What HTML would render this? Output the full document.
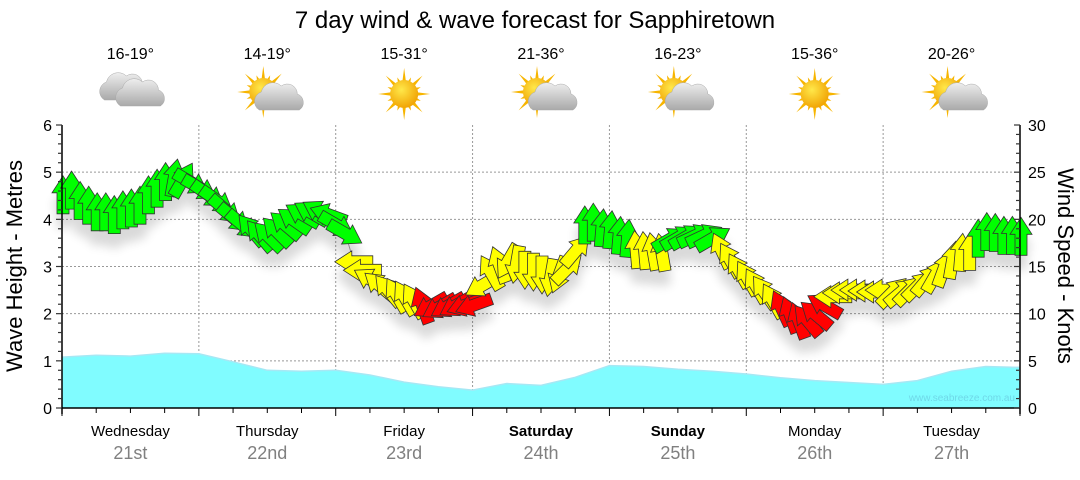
<!DOCTYPE html>
<html><head><meta charset="utf-8"><style>
body{margin:0;background:#fff;width:1080px;height:475px;overflow:hidden}
svg text{font-family:"Liberation Sans",sans-serif}
</style></head><body>
<svg id="chart" width="1080" height="475" viewBox="0 0 1080 475" xmlns="http://www.w3.org/2000/svg">
<defs>
<filter id="sh" x="-50%" y="-50%" width="200%" height="250%"><feGaussianBlur in="SourceAlpha" stdDeviation="5"/><feOffset dy="14" result="b"/><feComponentTransfer><feFuncA type="linear" slope="0.15"/></feComponentTransfer><feMerge><feMergeNode/><feMergeNode in="SourceGraphic"/></feMerge></filter>
<radialGradient id="sun" cx="0.4" cy="0.35" r="0.7"><stop offset="0" stop-color="#ffe84a"/><stop offset="1" stop-color="#f0a000"/></radialGradient>
<linearGradient id="cl" x1="0" y1="0" x2="0" y2="1"><stop offset="0" stop-color="#eeeeee"/><stop offset="1" stop-color="#a9a9a9"/></linearGradient>
</defs>
<text x="535" y="28" font-size="24" text-anchor="middle" fill="#000">7 day wind &amp; wave forecast for Sapphiretown</text>
<g id="grid"></g>
<g id="wave"></g>
<g id="wind" filter="url(#sh)"></g>
<g id="axes"></g>
<g id="topg"></g>
<text x="1015" y="401" font-size="10" text-anchor="end" fill="#6fd8e8">www.seabreeze.com.au</text>
<text transform="translate(22,266) rotate(-90)" font-size="22" text-anchor="middle">Wave Height - Metres</text>
<text transform="translate(1058,266) rotate(90)" font-size="22" text-anchor="middle">Wind Speed - Knots</text>
</svg>
<script>
const days=["Wednesday","Thursday","Friday","Saturday","Sunday","Monday","Tuesday"];
const dates=["21st","22nd","23rd","24th","25th","26th","27th"];
const boldDays=[false,false,false,true,true,false,false];
const temps=["16-19°","14-19°","15-31°","21-36°","16-23°","15-36°","20-26°"];
const icons=["cloud","suncloud","sun","suncloud","suncloud","sun","suncloud"];
const waveHeights=[1.08,1.12,1.10,1.16,1.15,0.98,0.80,0.78,0.80,0.70,0.55,0.45,0.38,0.52,0.48,0.65,0.90,0.88,0.82,0.78,0.72,0.64,0.58,0.54,0.50,0.58,0.78,0.88,0.86];
const windSpeeds=[
22.6,23.1,22.0,21.5,20.8,20.8,20.5,21.0,21.2,21.5,22.6,23.3,24.0,24.4,24.2,23.9,
23.3,22.6,22.0,21.0,20.1,19.4,18.9,18.3,18.2,18.7,19.4,19.9,20.5,20.7,20.8,20.5,
19.4,18.5,15.5,14.6,13.6,13.0,12.5,12.0,11.7,11.4,10.9,10.8,10.7,10.8,10.9,10.9,
10.9,13.0,14.4,15.2,15.5,15.2,14.6,14.4,14.1,13.8,14.1,14.8,16.7,19.4,19.7,19.1,
18.9,18.3,18.0,16.8,16.7,16.6,16.5,17.9,18.1,18.2,18.3,18.3,18.0,16.7,15.7,14.6,
13.8,13.0,12.3,11.4,10.6,9.9,9.3,9.3,9.9,10.9,11.8,12.2,12.5,12.5,12.4,12.3,
12.5,12.3,12.3,12.5,13.0,13.6,14.1,14.8,15.7,16.5,16.6,18.0,18.7,18.6,18.3,18.3,18.2];
const windDirs=[
-90,-90,-90,-90,-90,-90,-90,-90,-90,-90,-90,-90,-90,-80,-60,30,
30,35,35,40,40,40,-130,-130,-135,-135,-140,-145,-150,-150,-150,-160,
30,30,180,180,-150,-140,-130,-120,-120,-120,-110,150,150,150,150,160,
160,150,-120,-110,120,100,90,90,90,100,110,-45,-50,-90,-90,-85,
-85,-85,-85,-95,-95,-100,-100,-30,-30,-30,-25,-25,-30,-115,-120,-120,
-120,-120,-125,-120,-115,-110,-110,-130,-140,-150,180,180,180,180,180,180,
180,-45,-40,-45,-45,-50,-60,-70,-80,-85,-90,-90,-90,-90,-90,-90,-90];
const leftTicks=[0,1,2,3,4,5,6];
const rightTicks=[0,5,10,15,20,25,30];

const NS="http://www.w3.org/2000/svg";
const X0=62,X1=1020,Y0=408,Y1=125,DW=(X1-X0)/7;
const xDay=d=>X0+d*DW;
const yWave=h=>Y0-h/6*(Y0-Y1);
const yWind=v=>Y0-v/30*(Y0-Y1);
function mk(tag,attrs,parent){const e=document.createElementNS(NS,tag);for(const k in attrs)e.setAttribute(k,attrs[k]);parent.appendChild(e);return e;}
const grid=document.getElementById('grid'),axes=document.getElementById('axes'),wave=document.getElementById('wave'),wind=document.getElementById('wind'),topG=document.getElementById('topg');

for(const t of leftTicks){if(t===0||t===6)continue;const l=mk('line',{x1:X0,x2:X1,y1:yWave(t),y2:yWave(t),stroke:'#999','stroke-dasharray':'2,2'},grid);

}
for(let d=1;d<7;d++){const l=mk('line',{x1:xDay(d),x2:xDay(d),y1:Y1,y2:Y0,stroke:'#999','stroke-dasharray':'2,2'},grid);

}

{let pts=waveHeights.map((h,i)=>[X0+i*(X1-X0)/(waveHeights.length-1),yWave(h)]);
let d='M'+X0+','+Y0+' '+pts.map(p=>'L'+p[0].toFixed(1)+','+p[1].toFixed(1)).join(' ')+' L'+X1+','+Y0+'Z';
const a=mk('path',{d:d,fill:'#80fcff',stroke:'none'},wave);


const ln=mk('path',{d:'M'+pts.map(p=>p[0].toFixed(1)+','+p[1].toFixed(1)).join(' L'),fill:'none',stroke:'#a6e8f4','stroke-width':1.5},wave);

}

{const n=windSpeeds.length,step=(X1-X0)/(n-1);
const pts=windSpeeds.map((v,i)=>[X0+1+i*step,yWind(v)]);
const cl=mk('path',{d:'M'+pts.map(p=>p[0].toFixed(1)+','+p[1].toFixed(1)).join(' L'),fill:'none',stroke:'#888','stroke-width':1},wind);


const L=38,HL=17,HW=11,SW=6;
const shape=`M${L/2},0 L${L/2-HL},${-HW} L${L/2-HL},${-SW} L${-L/2},${-SW} L${-L/2},${SW} L${L/2-HL},${SW} L${L/2-HL},${HW}Z`;
windSpeeds.forEach((v,i)=>{const c=v<11?'#ff0000':(v<17?'#ffff00':'#00ff00');
const p=mk('path',{d:shape,fill:c,stroke:'#333','stroke-width':0.8,'stroke-linejoin':'miter',transform:`translate(${pts[i][0].toFixed(1)},${pts[i][1].toFixed(1)}) rotate(${windDirs[i]})`},wind);

});}

{const la=mk('line',{x1:X0,x2:X0,y1:Y1,y2:Y0+6,stroke:'#000','stroke-width':1.5},axes);


const ra=mk('line',{x1:X1,x2:X1,y1:Y1,y2:Y0+6,stroke:'#000','stroke-width':1.5},axes);


const ba=mk('line',{x1:X0,x2:X1,y1:Y0,y2:Y0,stroke:'#000','stroke-width':1.5},axes);


for(let m=0;m<=30;m++){const y=yWave(m/5);mk('line',{x1:X0-(m%5?4:6),x2:X0,y1:y,y2:y,stroke:'#333','stroke-width':1.2},axes);}
for(let k=0;k<=30;k++){const y=yWind(k);mk('line',{x1:X1-(k%5?4:6),x2:X1,y1:y,y2:y,stroke:'#333','stroke-width':1.2},axes);}
for(const t of leftTicks){const tx=mk('text',{x:X0-10,y:yWave(t)+6,'font-size':16,'text-anchor':'end'},axes);tx.textContent=t;

}
for(const t of rightTicks){const tx=mk('text',{x:X1+8,y:yWind(t)+6,'font-size':16},axes);tx.textContent=t;

}
for(let q=0;q<=28;q++){const x=X0+q*DW/4;mk('line',{x1:x,x2:x,y1:Y0,y2:Y0+(q%4?5:8),stroke:'#000','stroke-width':1},axes);}
days.forEach((d,i)=>{const cx=xDay(i)+DW/2;
const t=mk('text',{x:cx,y:436,'font-size':15,'text-anchor':'middle','font-weight':boldDays[i]?'bold':'normal'},axes);t.textContent=d;


const t2=mk('text',{x:cx,y:459,'font-size':18,'text-anchor':'middle',fill:'#808080'},axes);t2.textContent=dates[i];

});}

function sunIcon(g,cx,cy){for(let k=0;k<16;k++){const a=k*Math.PI/8,r=k%2?18:26;
mk('polygon',{points:`${cx+Math.cos(a)*r},${cy+Math.sin(a)*r} ${cx+Math.cos(a+0.18)*11},${cy+Math.sin(a+0.18)*11} ${cx+Math.cos(a-0.18)*11},${cy+Math.sin(a-0.18)*11}`,fill:'#f7b500'},g);}
mk('circle',{cx:cx,cy:cy,r:14,fill:'url(#sun)'},g);}
function cloudIcon(g,cx,cy,s){mk('path',{d:`M${cx-20*s},${cy+10*s} a10,10 0 0 1 2,-18 a12,12 0 0 1 20,-6 a10,10 0 0 1 16,8 a9,9 0 0 1 2,16 Z`,fill:'url(#cl)',stroke:'#aaa','stroke-width':0.5},g);}
temps.forEach((t,i)=>{const cx=xDay(i)+DW/2;
const tx=mk('text',{x:cx,y:59,'font-size':16,'text-anchor':'middle'},topG);tx.textContent=t;


const g=mk('g',{},topG);


if(icons[i]==='cloud'){cloudIcon(g,cx-6,90,1);cloudIcon(g,cx+10,96,1);}
else if(icons[i]==='sun'){sunIcon(g,cx,94);}
else{sunIcon(g,cx-4,92);cloudIcon(g,cx+12,100,1);}});
</script>
</body></html>
